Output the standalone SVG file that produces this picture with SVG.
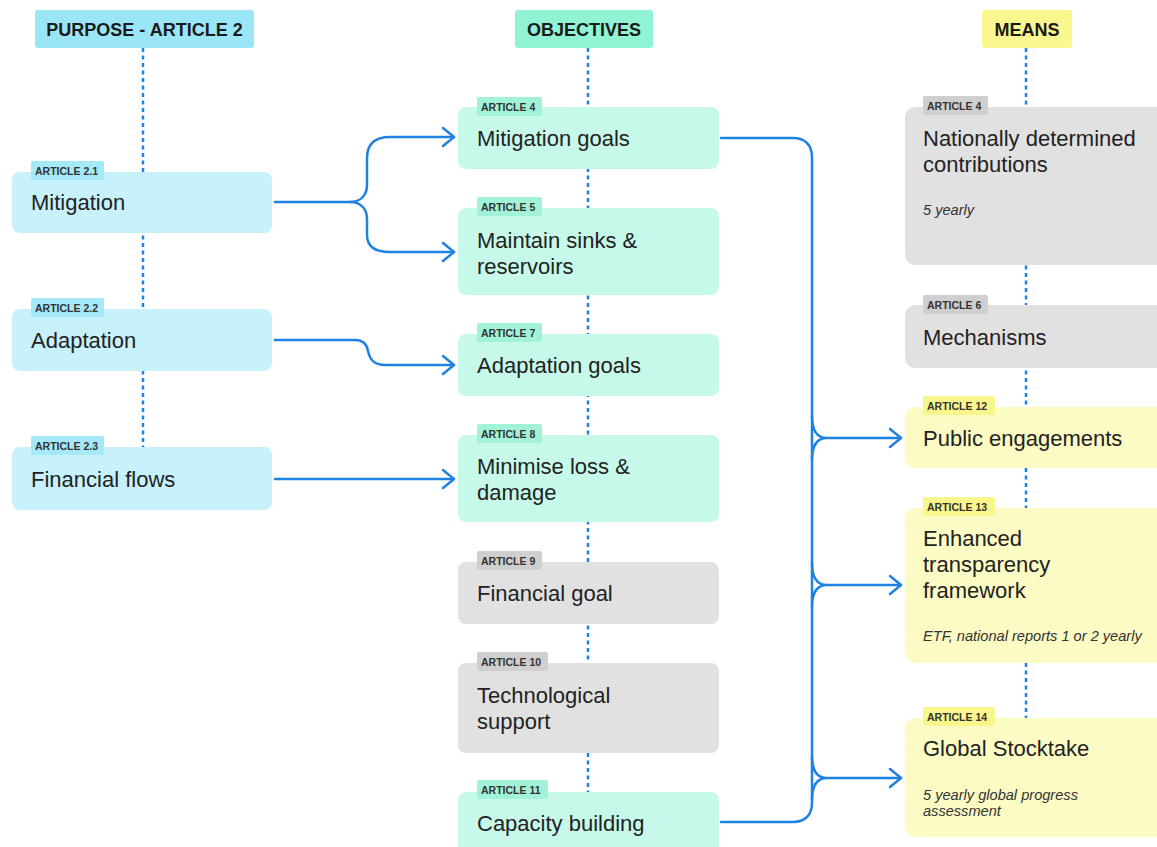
<svg xmlns="http://www.w3.org/2000/svg" width="1157" height="847" viewBox="0 0 1157 847">
<style>
.t{font-family:"Liberation Sans",Arial,sans-serif;font-size:22px;fill:#222}
.tag{font-family:"Liberation Sans",Arial,sans-serif;font-size:10.5px;font-weight:bold;fill:#333}
.hd{font-family:"Liberation Sans",Arial,sans-serif;font-size:18px;font-weight:bold;fill:#1a1a1a}
.it{font-family:"Liberation Sans",Arial,sans-serif;font-size:14.6px;font-style:italic;fill:#333}
.bc{fill:#c7f1fb}.tc{fill:#a5e8f7}
.bm{fill:#c6f9e9}.tm{fill:#a1f2d7}
.bg{fill:#e1e1e1}.tg{fill:#cfcfcf}
.by{fill:#fcfbc4}.ty{fill:#f9f78c}
.dot{stroke:#1e82e2;stroke-width:2.5;stroke-dasharray:4 3.5;fill:none}
.c{stroke:#1e82e2;stroke-width:2.5;fill:none;stroke-linecap:round}
</style>
<defs>
<marker id="ah" viewBox="-13 -11 15 22" refX="0" refY="0" markerWidth="15" markerHeight="22" markerUnits="userSpaceOnUse" orient="auto">
<path d="M-11,-9 L0,0 L-11,9" fill="none" stroke="#1e82e2" stroke-width="2.5" stroke-linecap="round" stroke-linejoin="round"/>
</marker>
</defs>
<rect width="1157" height="847" fill="#fff"/>
<g id="guides">
<path class="dot" d="M143,48 V447"/>
<path class="dot" d="M588,48 V792"/>
<path class="dot" d="M1026,48 V718"/>
</g>
<g id="headers">
<g id="h-purpose"><rect x="35" y="10" width="219" height="38" rx="3" fill="#9ae6f7"/><text class="hd" x="144.5" y="35.5" text-anchor="middle">PURPOSE - ARTICLE 2</text></g>
<g id="h-objectives"><rect x="515" y="10" width="138" height="38" rx="3" fill="#8ff3d4"/><text class="hd" x="584" y="35.5" text-anchor="middle">OBJECTIVES</text></g>
<g id="h-means"><rect x="982" y="10" width="90" height="38" rx="3" fill="#faf78e"/><text class="hd" x="1027" y="35.5" text-anchor="middle">MEANS</text></g>
</g>
<g id="n-mitigation"><rect class="bc" x="12" y="172" width="260" height="61" rx="8"/><rect class="tc" x="31" y="161" width="73" height="19" rx="2"/><text class="tag" x="35" y="174.5">ARTICLE 2.1</text><text class="t" x="31" y="210">Mitigation</text></g>
<g id="n-adaptation"><rect class="bc" x="12" y="309" width="260" height="62" rx="8"/><rect class="tc" x="31" y="298" width="73" height="19" rx="2"/><text class="tag" x="35" y="311.5">ARTICLE 2.2</text><text class="t" x="31" y="348">Adaptation</text></g>
<g id="n-finflows"><rect class="bc" x="12" y="447" width="260" height="63" rx="8"/><rect class="tc" x="31" y="436" width="73" height="19" rx="2"/><text class="tag" x="35" y="449.5">ARTICLE 2.3</text><text class="t" x="31" y="487">Financial flows</text></g>

<g id="n-mitgoals"><rect class="bm" x="458" y="107" width="261" height="62" rx="8"/><rect class="tm" x="477" y="97" width="65" height="19" rx="2"/><text class="tag" x="481" y="110.5">ARTICLE 4</text><text class="t" x="477" y="146">Mitigation goals</text></g>
<g id="n-sinks"><rect class="bm" x="458" y="208" width="261" height="87" rx="8"/><rect class="tm" x="477" y="197" width="65" height="19" rx="2"/><text class="tag" x="481" y="210.5">ARTICLE 5</text><text class="t" x="477" y="248">Maintain sinks &amp;</text><text class="t" x="477" y="274">reservoirs</text></g>
<g id="n-adagoals"><rect class="bm" x="458" y="334" width="261" height="62" rx="8"/><rect class="tm" x="477" y="323" width="65" height="19" rx="2"/><text class="tag" x="481" y="336.5">ARTICLE 7</text><text class="t" x="477" y="373">Adaptation goals</text></g>
<g id="n-loss"><rect class="bm" x="458" y="435" width="261" height="87" rx="8"/><rect class="tm" x="477" y="424" width="65" height="19" rx="2"/><text class="tag" x="481" y="437.5">ARTICLE 8</text><text class="t" x="477" y="474">Minimise loss &amp;</text><text class="t" x="477" y="500">damage</text></g>
<g id="n-fingoal"><rect class="bg" x="458" y="562" width="261" height="62" rx="8"/><rect class="tg" x="477" y="551" width="65" height="19" rx="2"/><text class="tag" x="481" y="564.5">ARTICLE 9</text><text class="t" x="477" y="601">Financial goal</text></g>
<g id="n-tech"><rect class="bg" x="458" y="663" width="261" height="90" rx="8"/><rect class="tg" x="477" y="652" width="71" height="19" rx="2"/><text class="tag" x="481" y="665.5">ARTICLE 10</text><text class="t" x="477" y="703">Technological</text><text class="t" x="477" y="729">support</text></g>
<g id="n-capacity"><rect class="bm" x="458" y="792" width="261" height="70" rx="8"/><rect class="tm" x="477" y="780" width="71" height="19" rx="2"/><text class="tag" x="481" y="793.5">ARTICLE 11</text><text class="t" x="477" y="831">Capacity building</text></g>

<g id="n-ndc"><rect class="bg" x="905" y="107" width="270" height="158" rx="10"/><rect class="tg" x="923" y="96" width="65" height="19" rx="2"/><text class="tag" x="927" y="109.5">ARTICLE 4</text><text class="t" x="923" y="146">Nationally determined</text><text class="t" x="923" y="172">contributions</text><text class="it" x="923" y="215">5 yearly</text></g>
<g id="n-mech"><rect class="bg" x="905" y="305" width="270" height="63" rx="10"/><rect class="tg" x="923" y="295" width="65" height="19" rx="2"/><text class="tag" x="927" y="308.5">ARTICLE 6</text><text class="t" x="923" y="345">Mechanisms</text></g>
<g id="n-public"><rect class="by" x="905" y="407" width="270" height="61" rx="10"/><rect class="ty" x="923" y="396" width="72" height="19" rx="2"/><text class="tag" x="927" y="409.5">ARTICLE 12</text><text class="t" x="923" y="446">Public engagements</text></g>
<g id="n-etf"><rect class="by" x="905" y="508" width="270" height="155" rx="10"/><rect class="ty" x="923" y="497" width="72" height="19" rx="2"/><text class="tag" x="927" y="510.5">ARTICLE 13</text><text class="t" x="923" y="546">Enhanced</text><text class="t" x="923" y="572">transparency</text><text class="t" x="923" y="598">framework</text><text class="it" x="923" y="641">ETF, national reports 1 or 2 yearly</text></g>
<g id="n-gst"><rect class="by" x="905" y="718" width="270" height="119" rx="10"/><rect class="ty" x="923" y="707" width="72" height="19" rx="2"/><text class="tag" x="927" y="720.5">ARTICLE 14</text><text class="t" x="923" y="756">Global Stocktake</text><text class="it" x="923" y="800">5 yearly global progress</text><text class="it" x="923" y="816">assessment</text></g>

<g id="connectors">
<path class="c" d="M275,202 H350 C361,202 367,195 367,185 V158 C367,145 374,137 390,137 H454" marker-end="url(#ah)"/>
<path class="c" d="M350,202 C361,202 367,209 367,219 V235 C367,246 374,252 390,252 H454" marker-end="url(#ah)"/>
<path class="c" d="M275,340 H355 C364,340 367,345 368,351 C370,360 374,365 386,365 H454" marker-end="url(#ah)"/>
<path class="c" d="M275,479 H454" marker-end="url(#ah)"/>
<path class="c" d="M721,138 H793 C805,138 812,145 812,157 V803 C812,815 805,822 793,822 H721"/>
<path class="c" d="M812,416 C812,430 816,438 827,438 M812,460 C812,446 816,438 827,438 H901" marker-end="url(#ah)"/>
<path class="c" d="M812,563 C812,577 816,585 827,585 M812,607 C812,593 816,585 827,585 H901" marker-end="url(#ah)"/>
<path class="c" d="M812,756 C812,770 816,778 827,778 M812,800 C812,786 816,778 827,778 H901" marker-end="url(#ah)"/>
</g>
</svg>
